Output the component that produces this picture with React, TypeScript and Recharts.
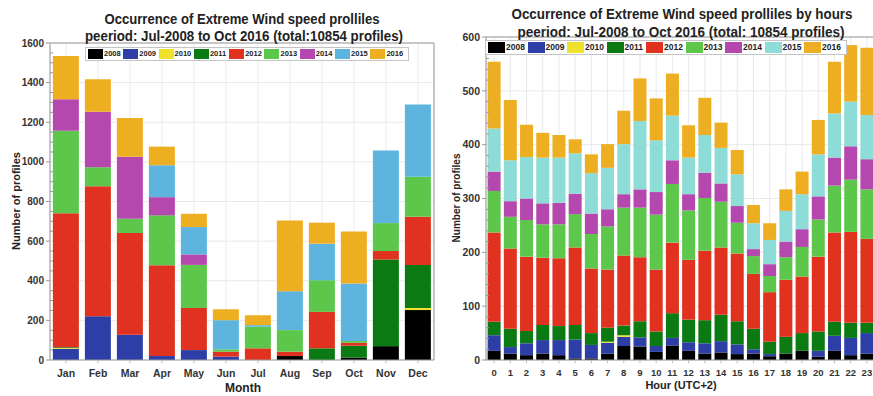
import React from 'react';
import { BarChart, Bar, XAxis, YAxis, CartesianGrid, Legend } from 'recharts';

const FONT = '"Liberation Sans", Arial, sans-serif';

const years = ['2008', '2009', '2010', '2011', '2012', '2013', '2014', '2015', '2016'];
const months = ['Jan', 'Feb', 'Mar', 'Apr', 'May', 'Jun', 'Jul', 'Aug', 'Sep', 'Oct', 'Nov', 'Dec'];
const hours = ['0', '1', '2', '3', '4', '5', '6', '7', '8', '9', '10', '11', '12', '13', '14', '15', '16', '17', '18', '19', '20', '21', '22', '23'];

// profiles per month, one array per year
const m2008 = [0, 0, 0, 0, 0, 0, 0, 20, 0, 12, 70, 252];
const m2009 = [57, 221, 127, 20, 50, 17, 0, 0, 0, 0, 0, 0];
const m2010 = [3, 0, 0, 0, 0, 0, 0, 0, 0, 0, 0, 10];
const m2011 = [4, 0, 0, 0, 0, 0, 0, 0, 59, 60, 437, 218];
const m2012 = [677, 656, 514, 458, 213, 25, 59, 22, 184, 15, 43, 243];
const m2013 = [416, 96, 72, 252, 217, 12, 109, 109, 160, 9, 141, 202];
const m2014 = [159, 280, 313, 92, 53, 0, 0, 0, 0, 0, 0, 0];
const m2015 = [0, 0, 0, 161, 138, 147, 8, 196, 184, 290, 366, 364];
const m2016 = [219, 164, 195, 94, 67, 55, 50, 357, 106, 263, 0, 0];

// profiles per hour of day, one array per year
const h2008 = [17, 12, 9, 12, 9, 3, 3, 12, 26, 25, 15, 27, 17, 12, 14, 11, 12, 7, 12, 17, 6, 17, 9, 12];
const h2009 = [29, 12, 22, 25, 28, 35, 25, 20, 17, 17, 11, 14, 16, 19, 21, 18, 8, 4, 0, 0, 11, 28, 32, 38];
const h2010 = [0, 0, 0, 0, 0, 0, 0, 2, 3, 0, 0, 0, 0, 0, 0, 0, 0, 0, 0, 0, 0, 0, 0, 0];
const h2011 = [25, 34, 23, 28, 26, 27, 22, 26, 18, 30, 27, 46, 42, 43, 49, 43, 38, 23, 31, 33, 36, 26, 28, 19];
const h2012 = [166, 149, 138, 125, 126, 144, 120, 108, 130, 119, 115, 131, 111, 129, 125, 126, 102, 92, 106, 105, 139, 166, 169, 156];
const h2013 = [77, 59, 68, 62, 63, 62, 64, 80, 89, 92, 102, 109, 92, 98, 85, 57, 33, 30, 42, 55, 69, 87, 97, 92];
const h2014 = [36, 29, 40, 39, 40, 38, 38, 32, 25, 34, 42, 44, 30, 47, 34, 31, 13, 22, 29, 33, 43, 52, 62, 56];
const h2015 = [80, 76, 77, 85, 84, 75, 75, 77, 93, 127, 96, 83, 68, 70, 66, 59, 48, 45, 57, 65, 78, 82, 83, 82];
const h2016 = [124, 112, 60, 46, 42, 26, 35, 44, 62, 79, 78, 78, 60, 69, 47, 45, 34, 31, 40, 42, 64, 96, 105, 125];

const monthSeries = [m2008, m2009, m2010, m2011, m2012, m2013, m2014, m2015, m2016];
const hourSeries = [h2008, h2009, h2010, h2011, h2012, h2013, h2014, h2015, h2016];

const monthColors = ['#000000', '#2d3ea6', '#efe22a', '#0b7a12', '#e0321f', '#5dc74c', '#b548ae', '#5db4df', '#eeae22'];
const hourColors = ['#000000', '#2d3ea6', '#efe22a', '#0b7a12', '#e0321f', '#5dc74c', '#b548ae', '#8edcd7', '#eeae22'];

const buildRows = (cats: string[], series: number[][]) =>
  cats.map((c, i) => {
    const row: Record<string, string | number> = { cat: c };
    years.forEach((y, k) => {
      row['y' + y] = series[k][i];
    });
    return row;
  });

const monthRows = buildRows(months, monthSeries);
const hourRows = buildRows(hours, hourSeries);

const range = (max: number, step: number) => {
  const out: number[] = [];
  for (let v = 0; v <= max; v += step) out.push(v);
  return out;
};

const TICK_GAP = 6;

// y tick with labels on major values and short marks on minor ones
const YTick = (props: any) => {
  const { x, y, payload, major, fontSize } = props;
  const ax = x + TICK_GAP;
  const isMajor = payload.value % major === 0;
  return (
    <g>
      <line x1={ax} x2={isMajor ? ax - 4 : ax + 3} y1={y} y2={y} stroke="#999" />
      {isMajor && (
        <text x={x} y={y} dy={fontSize * 0.36} textAnchor="end" fontSize={fontSize} fontWeight="bold" fill="#333" fontFamily={FONT}>
          {payload.value}
        </text>
      )}
    </g>
  );
};

const YearLegend = ({ colors, fontSize, swatch, itemWidth, height }: any) => (
  <div
    style={{
      display: 'flex',
      border: '1px solid #c4c4c4',
      background: '#fff',
      padding: '1px 2px',
      width: 'max-content',
      fontFamily: FONT,
    }}
  >
    {years.map((y, i) => (
      <div key={y} style={{ display: 'flex', alignItems: 'center', width: itemWidth }}>
        <span style={{ width: swatch, height, background: colors[i], display: 'inline-block' }} />
        <span style={{ fontSize, fontWeight: 'bold', color: '#222', marginLeft: 1, lineHeight: 1 }}>{y}</span>
      </div>
    ))}
  </div>
);

const StackChart = ({ rows, colors, yMax, major, minor, width, margin, yWidth, tickFont, xFont, xMargin, gap, legendPos, legend }: any) => (
  <BarChart width={width} height={396} data={rows} margin={margin} barCategoryGap={gap}>
    <CartesianGrid stroke="#e9e9e9" horizontalValues={range(yMax, major)} />
    <XAxis
      dataKey="cat"
      interval={0}
      height={30}
      tickSize={3}
      tickMargin={xMargin}
      axisLine={{ stroke: '#999' }}
      tickLine={{ stroke: '#bbb' }}
      tick={{ fontSize: xFont, fontWeight: 'bold', fill: '#333', fontFamily: FONT }}
    />
    <XAxis xAxisId="top" orientation="top" dataKey="cat" height={1} tick={false} tickSize={3} axisLine={{ stroke: '#999' }} tickLine={{ stroke: '#bbb' }} />
    <YAxis
      type="number"
      domain={[0, yMax]}
      ticks={range(yMax, minor)}
      interval={0}
      width={yWidth}
      tickSize={0}
      tickMargin={TICK_GAP}
      tickLine={false}
      axisLine={{ stroke: '#999' }}
      tick={(p: any) => <YTick {...p} major={major} fontSize={tickFont} />}
    />
    <YAxis yAxisId="right" orientation="right" type="number" domain={[0, yMax]} ticks={range(yMax, major)} width={1} tick={false} tickSize={3} axisLine={{ stroke: '#999' }} tickLine={{ stroke: '#bbb' }} />
    <Legend layout="horizontal" verticalAlign="middle" align="center" wrapperStyle={{ ...legendPos, width: 'auto', height: 'auto' }} content={() => legend} />
    {years.map((y, i) => (
      <Bar key={y} dataKey={'y' + y} stackId="a" fill={colors[i]} isAnimationActive={false} />
    ))}
  </BarChart>
);

const titleStyle = { fontFamily: FONT, fontWeight: 'bold', fill: '#222' } as const;

export default function App() {
  return (
    <div style={{ position: 'fixed', left: 0, top: 0, width: 873, height: 396, overflow: 'hidden', background: '#fff' }}>
      <div style={{ position: 'absolute', left: 0, top: 0 }}>
        <StackChart
          rows={monthRows}
          colors={monthColors}
          yMax={1600}
          major={200}
          minor={50}
          width={440}
          margin={{ top: 42, right: 5, bottom: 6, left: 0 }}
          yWidth={50}
          tickFont={10}
          xFont={10.5}
          xMargin={7}
          gap="9%"
          legendPos={{ left: 85, top: 47 }}
          legend={<YearLegend colors={monthColors} fontSize={7.5} swatch={15} itemWidth={35.3} height={10} />}
        />
      </div>
      <div style={{ position: 'absolute', left: 440, top: 0 }}>
        <StackChart
          rows={hourRows}
          colors={hourColors}
          yMax={600}
          major={100}
          minor={20}
          width={440}
          margin={{ top: 36, right: 4, bottom: 6, left: 0 }}
          yWidth={46}
          tickFont={10.5}
          xFont={9.5}
          xMargin={6}
          gap="10%"
          legendPos={{ left: 45, top: 40 }}
          legend={<YearLegend colors={hourColors} fontSize={8.5} swatch={17} itemWidth={39.5} height={11} />}
        />
      </div>
      <svg width={873} height={396} style={{ position: 'absolute', left: 0, top: 0, pointerEvents: 'none' }}>
        <text x={242} y={24} textAnchor="middle" fontSize={14.5} textLength={275} lengthAdjust="spacingAndGlyphs" {...titleStyle}>
          Occurrence of Extreme Wind speed prolliles
        </text>
        <text x={244} y={41} textAnchor="middle" fontSize={14.5} textLength={318} lengthAdjust="spacingAndGlyphs" {...titleStyle}>
          peeriod: Jul-2008 to Oct 2016 (total:10854 profiles)
        </text>
        <text x={682} y={19} textAnchor="middle" fontSize={14} textLength={341} lengthAdjust="spacingAndGlyphs" {...titleStyle}>
          Occurrence of Extreme Wind speed prolliles by hours
        </text>
        <text x={681} y={37} textAnchor="middle" fontSize={14} textLength={327} lengthAdjust="spacingAndGlyphs" {...titleStyle}>
          peeriod: Jul-2008 to Oct 2016 (total: 10854 profiles)
        </text>
        <text x={0} y={0} transform="translate(20 201) rotate(-90)" textAnchor="middle" fontSize={11} {...titleStyle}>
          Number of profiles
        </text>
        <text x={0} y={0} transform="translate(460 198) rotate(-90)" textAnchor="middle" fontSize={10} {...titleStyle}>
          Number of profiles
        </text>
        <text x={243} y={392} textAnchor="middle" fontSize={12} {...titleStyle}>
          Month
        </text>
        <text x={681} y={389} textAnchor="middle" fontSize={11} {...titleStyle}>
          Hour (UTC+2)
        </text>
      </svg>
    </div>
  );
}
